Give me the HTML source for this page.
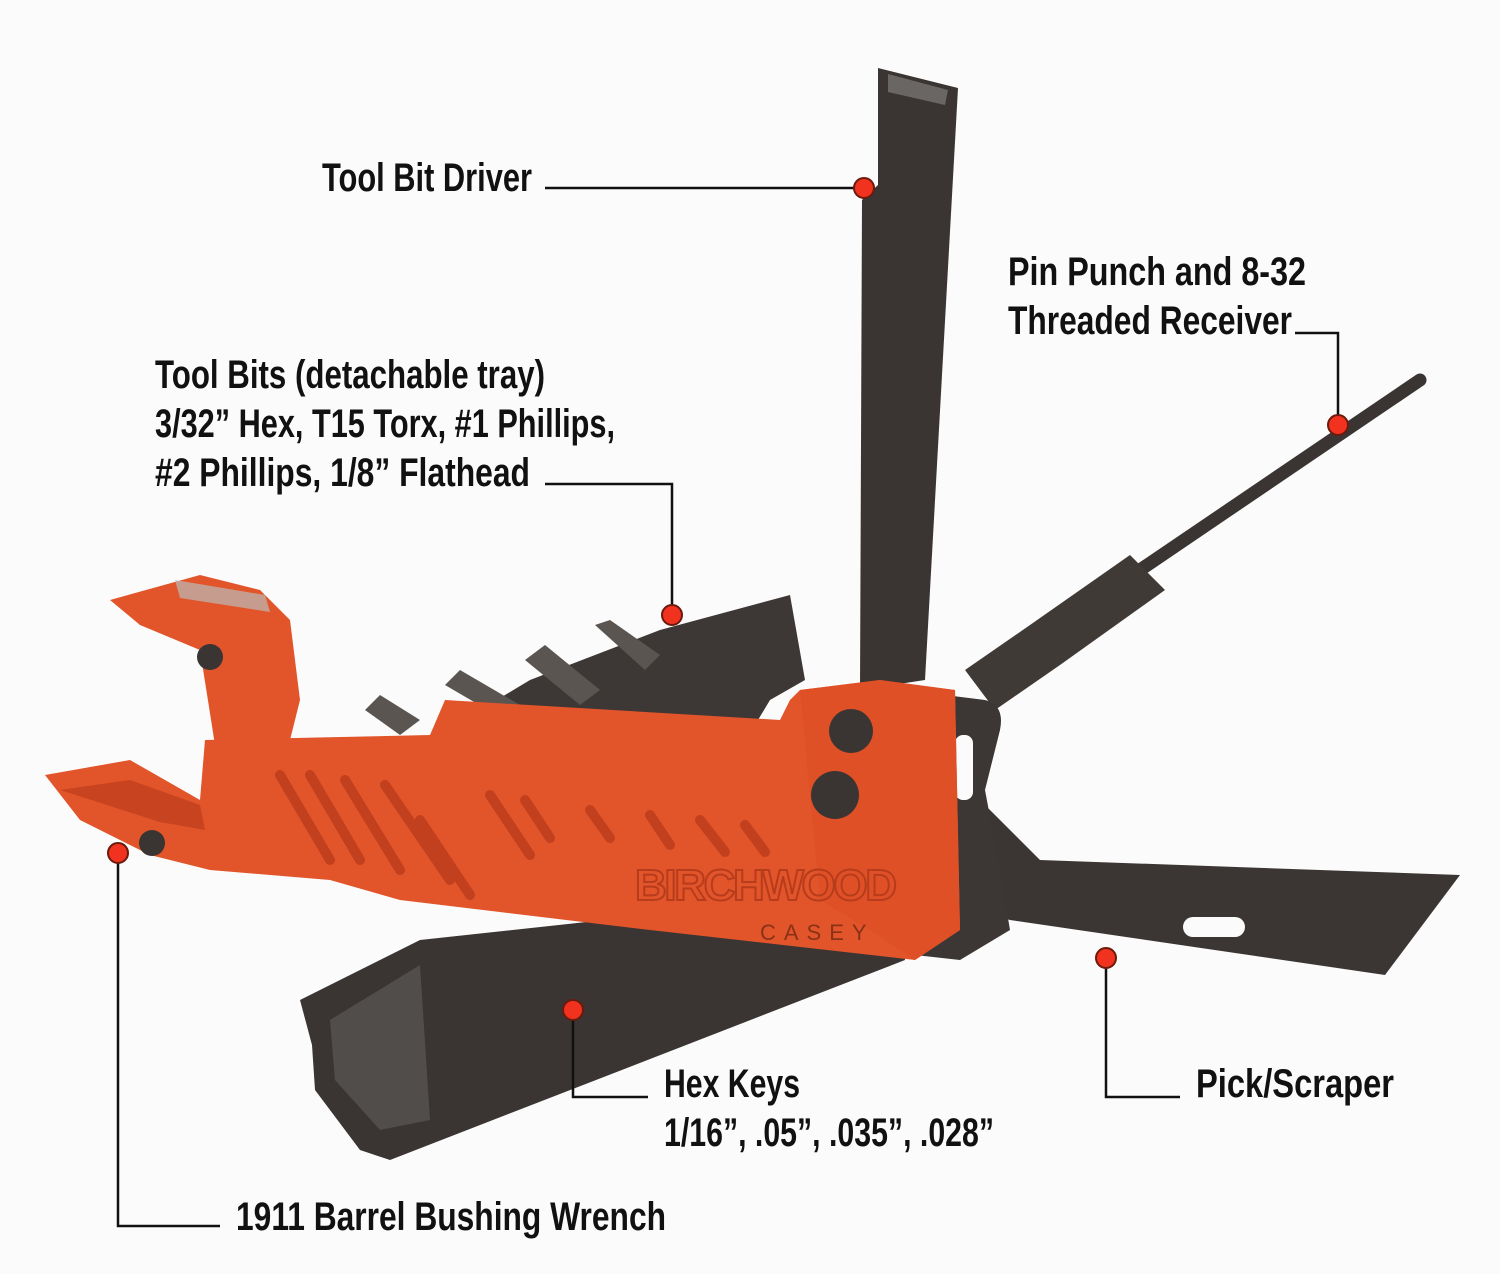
<!DOCTYPE html>
<html><head><meta charset="utf-8"><style>
html,body{margin:0;padding:0;background:#fbfbfb;}
svg{display:block}
text{font-family:"Liberation Sans Narrow","Liberation Sans",sans-serif;font-weight:bold;font-size:40px;fill:#111;}
</style></head><body>
<svg width="1500" height="1274" viewBox="0 0 1500 1274" xmlns="http://www.w3.org/2000/svg">
<rect width="1500" height="1274" fill="#fbfbfb"/>
<!-- hex keys -->
<polygon points="300,1000 420,940 900,888 905,960 390,1160 360,1150 315,1090 312,1045" fill="#3a3532"/>
<polygon points="330,1020 420,965 430,1120 380,1130 335,1080" fill="#fbfbfb" opacity="0.12"/>
<!-- pick/scraper -->
<polygon points="980,800 1040,860 1460,875 1385,975 1010,920 960,905" fill="#3b3633"/>
<rect x="1183" y="917" width="62" height="20" rx="10" fill="#fbfbfb"/>
<!-- pin punch -->
<line x1="1000" y1="665" x2="1420" y2="380" stroke="#3a3532" stroke-width="13" stroke-linecap="round"/>
<polygon points="965,670 1030,625 1130,555 1165,590 1060,665 995,710" fill="#403a36"/>
<!-- frame -->
<path d="M905,690 L985,700 Q1005,705 1000,730 L985,790 Q1000,870 1010,930 L960,960 L915,955 Z" fill="#3c3734"/>
<rect x="955" y="735" width="18" height="65" rx="8" fill="#fbfbfb"/>
<!-- tool bit driver -->
<polygon points="878,68 958,88 925,680 860,690 862,200 878,185" fill="#3a3532"/>
<polygon points="888,74 948,90 945,105 888,92" fill="#fbfbfb" opacity="0.25"/>
<!-- tray -->
<polygon points="430,740 530,680 660,630 790,595 805,680 770,700 740,750 600,770 470,790" fill="#3d3835"/>
<!-- bits -->
<g fill="#5a5550">
<polygon points="365,710 380,695 420,720 400,735"/>
<polygon points="445,685 460,670 520,705 505,720"/>
<polygon points="525,660 545,645 600,690 580,705"/>
<polygon points="595,625 610,620 660,655 645,670"/>
</g>
<!-- orange body -->
<path d="M110,600 L200,575 L260,590 L290,620 L300,700 L290,740 L215,745 L200,650 L140,625 Z" fill="#e2542a"/>
<polygon points="175,580 265,595 270,612 180,598" fill="#bbb" opacity="0.7"/>
<path d="M45,775 L130,760 L200,800 L205,740 L430,735 L445,700 L780,720 L790,700 L800,690 L880,680 L955,690 L960,930 L915,960 L650,930 L400,900 L330,880 L210,870 L150,855 L80,820 Z" fill="#e2542a"/>
<path d="M60,790 L130,780 L200,805 L205,830 L160,822 Z" fill="#c8431f"/>
<g stroke="#c2401d" stroke-width="10" stroke-linecap="round">
<line x1="280" y1="775" x2="330" y2="860"/><line x1="310" y1="775" x2="360" y2="860"/>
<line x1="345" y1="780" x2="400" y2="870"/><line x1="385" y1="785" x2="450" y2="880"/>
<line x1="420" y1="820" x2="470" y2="895"/><line x1="490" y1="795" x2="530" y2="855"/>
<line x1="525" y1="800" x2="550" y2="838"/><line x1="590" y1="810" x2="610" y2="838"/>
<line x1="650" y1="815" x2="670" y2="845"/><line x1="700" y1="820" x2="725" y2="852"/>
<line x1="745" y1="825" x2="765" y2="852"/></g>
<path d="M800,690 L880,680 L955,690 L960,930 L915,960 L870,930 L820,900 Z" fill="#df5027"/>
<circle cx="851" cy="731" r="22" fill="#3a3532"/>
<circle cx="835" cy="795" r="24" fill="#3a3532"/>
<circle cx="210" cy="657" r="13" fill="#3a3532"/>
<circle cx="152" cy="843" r="13" fill="#3a3532"/>
<text x="635" y="900" style="font-size:44px;fill:none;stroke:#b73c1c;stroke-width:2" textLength="262">BIRCHWOOD</text>
<text x="760" y="940" style="font-size:22px;fill:#8a3217;font-weight:normal;letter-spacing:8px">CASEY</text>
<!-- callout lines -->
<g stroke="#111" stroke-width="2.5" fill="none">
<polyline points="545,188 862,188"/>
<polyline points="1295,333 1338,333 1338,425"/>
<polyline points="545,484 672,484 672,615"/>
<polyline points="118,853 118,1226 220,1226"/>
<polyline points="573,1010 573,1097 648,1097"/>
<polyline points="1106,958 1106,1097 1180,1097"/>
</g>
<g fill="#f0321e" stroke="#6b1a0e" stroke-width="2">
<circle cx="864" cy="188" r="10"/><circle cx="1338" cy="425" r="10"/>
<circle cx="672" cy="615" r="10"/><circle cx="118" cy="853" r="10"/>
<circle cx="573" cy="1010" r="10"/><circle cx="1106" cy="958" r="10"/>
</g>
<text x="322" y="191" textLength="210" lengthAdjust="spacingAndGlyphs">Tool Bit Driver</text>
<text x="1008" y="285" textLength="298" lengthAdjust="spacingAndGlyphs">Pin Punch and 8-32</text>
<text x="1008" y="334" textLength="284" lengthAdjust="spacingAndGlyphs">Threaded Receiver</text>
<text x="155" y="388" textLength="390" lengthAdjust="spacingAndGlyphs">Tool Bits (detachable tray)</text>
<text x="155" y="437" textLength="460" lengthAdjust="spacingAndGlyphs">3/32” Hex, T15 Torx, #1 Phillips,</text>
<text x="155" y="486" textLength="375" lengthAdjust="spacingAndGlyphs">#2 Phillips, 1/8” Flathead</text>
<text x="664" y="1097" textLength="136" lengthAdjust="spacingAndGlyphs">Hex Keys</text>
<text x="664" y="1146" textLength="330" lengthAdjust="spacingAndGlyphs">1/16”, .05”, .035”, .028”</text>
<text x="1196" y="1097" textLength="198" lengthAdjust="spacingAndGlyphs">Pick/Scraper</text>
<text x="236" y="1230" textLength="430" lengthAdjust="spacingAndGlyphs">1911 Barrel Bushing Wrench</text>
</svg>
</body></html>
